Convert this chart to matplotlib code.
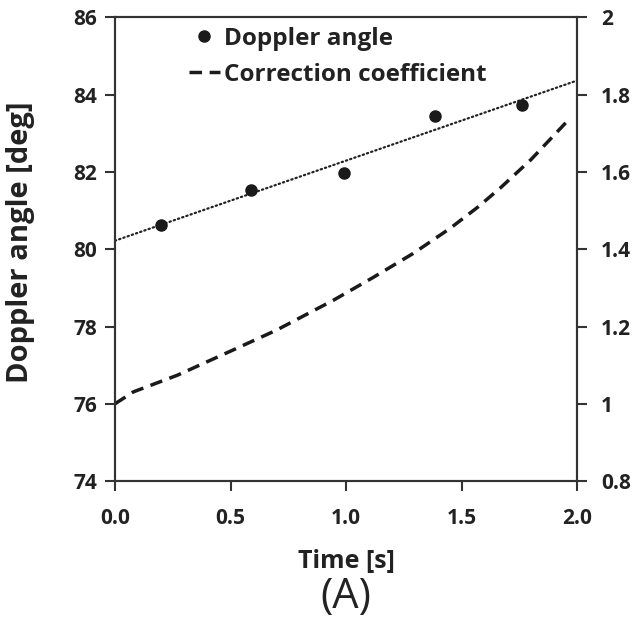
import numpy as np
import matplotlib
matplotlib.use("Agg")
import matplotlib.pyplot as plt

time_pts = [0.20, 0.59, 0.99, 1.385, 1.76]
angle_pts = [80.62, 81.54, 81.98, 83.45, 83.72]

# Correction coefficient curve
time_corr = [0.0, 0.08, 0.27, 0.51, 0.70, 0.945, 1.12, 1.29, 1.45, 1.57, 1.67, 1.80, 1.95]
corr_vals = [1.0, 1.031, 1.074, 1.139, 1.191, 1.268, 1.328, 1.389, 1.454, 1.509, 1.560, 1.632, 1.727]

plt.rcParams['font.family'] = ['Open Sans', 'DejaVu Sans']
plt.rcParams['font.weight'] = 'bold'

fig = plt.figure(figsize=(6.35, 6.2), dpi=100)
ax = fig.add_axes([0.181, 0.224, 0.728, 0.748])
ax2 = ax.twinx()

# linear trendline through the measured angles
p = np.polyfit(time_pts, angle_pts, 1)
tt = np.array([0.0, 2.0])
ax.plot(tt, np.polyval(p, tt), color='#222222', lw=1.6, linestyle=(0, (0.6, 1.4)),
        dash_capstyle='round')
h1, = ax.plot(time_pts, angle_pts, 'o', color='#1a1a1a', ms=8, label='Doppler angle')
h2, = ax2.plot(time_corr, corr_vals, color='#1a1a1a', lw=2.5, dashes=(3.6, 2.2),
               label='Correction coefficient')

ax.set_xlim(0, 2)
ax.set_ylim(74, 86)
ax2.set_ylim(0.8, 2)
ax.set_xticks([0, 0.5, 1.0, 1.5, 2.0])
ax.set_xticklabels(['0.0', '0.5', '1.0', '1.5', '2.0'])
ax.set_yticks(range(74, 87, 2))
ax2.set_yticks([0.8, 1.0, 1.2, 1.4, 1.6, 1.8, 2.0])
ax2.set_yticklabels(['0.8', '1', '1.2', '1.4', '1.6', '1.8', '2'])

for a in (ax, ax2):
    a.tick_params(direction='out', length=7, width=1.5, colors='#333333',
                  labelsize=15, labelcolor='#222222', pad=6)
    for s in a.spines.values():
        s.set_linewidth(1.5)
        s.set_color('#333333')
ax.tick_params(axis='x', pad=12)
ax2.tick_params(axis='y', pad=10)

ax.set_xlabel('Time [s]', fontsize=18, fontweight='bold', color='#222222', labelpad=15)
ax.set_ylabel('Doppler angle [deg]', fontsize=21, fontweight='bold', color='#222222')
ax.yaxis.set_label_coords(-0.173, 0.515)

leg = ax.legend([h1, h2], ['Doppler angle', 'Correction coefficient'],
                loc='upper left', bbox_to_anchor=(0.112, 1.027), frameon=False,
                prop={'size': 17.5, 'weight': 'bold'}, handlelength=1.3,
                handletextpad=0.15, labelspacing=0.5)
for t in leg.get_texts():
    t.set_color('#222222')

fig.text(0.545, 0.037, '(A)', ha='center', va='center', fontsize=30,
         fontweight='normal', color='#222222')

fig.savefig('out.png', dpi=100, facecolor='white')
